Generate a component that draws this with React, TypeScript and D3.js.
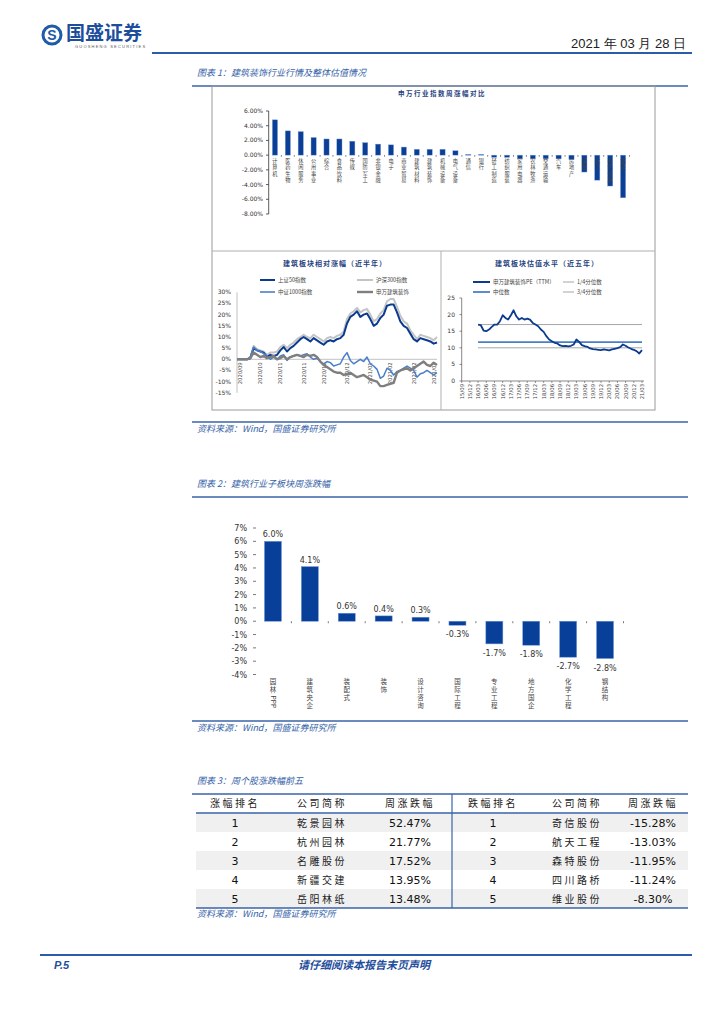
import React from 'react';
import * as d3 from 'd3';

const CN = "'Noto Sans CJK SC', 'Noto Sans', sans-serif";
const NUM = "'DejaVu Sans', sans-serif";
const ARIAL = "'Liberation Sans', Arial, sans-serif";
const BLUE = '#0b3f96';
const CAP = '#3562a8';

// ---------- Figure 1a: 申万行业指数周涨幅对比 ----------
const swIndustries = ['计算机', '医药生物', '休闲服务', '公用事业', '综合', '食品饮料', '传媒', '国防军工', '非银金融', '电子', '商业贸易', '建筑材料', '建筑装饰', '机械设备', '电气设备', '通信', '银行', '轻工制造', '纺织服装', '家用电器', '农林牧渔', '交通运输', '汽车', '房地产', '采掘', '化工', '有色金属', '钢铁'];
const swWeekly = [4.8, 3.3, 3.2, 2.4, 2.2, 2.2, 1.9, 1.7, 1.5, 1.4, 1.1, 0.8, 0.8, 0.8, 0.6, 0.1, 0.1, -0.3, -0.3, -0.5, -0.5, -0.5, -0.5, -0.6, -2.3, -3.4, -4.2, -5.8];
const swTicks = [6, 4, 2, 0, -2, -4, -6, -8];

// ---------- Figure 1b: 建筑板块相对涨幅（近半年） ----------
const relTickIdx = [1, 7, 13, 20, 26, 33, 40, 46, 53, 59];
const relTickLabels = ['2020/09', '2020/10', '2020/11', '2020/11', '2020/12', '2020/12', '2021/01', '2021/02', '2021/02', '2021/03'];
const relYTicks = [30, 25, 20, 15, 10, 5, 0, -5, -10, -15];
const sz50 = [0, 0, 0, 0, 0.5, 5, 4, 3.5, 3, 1, 2, 1.5, 2, 4, 5.5, 3.5, 5, 6, 7.5, 9, 10, 9, 8, 9.5, 8.5, 7.5, 6.5, 8, 8.5, 8, 9, 9.5, 11, 16, 19, 20, 21.5, 19, 20, 20.5, 18, 15, 16, 18.5, 20, 24, 24.5, 24.5, 21, 17, 15, 14, 11.5, 9, 8, 9.5, 9, 8.5, 8, 7, 7.5];
const hs300 = [0, 0, 0, 0, 1, 6, 4.5, 4, 3.5, 2, 3, 3, 3.5, 5.5, 6.5, 5, 6.5, 7.5, 9, 10, 11, 10, 9.5, 11, 10, 9, 8, 9.5, 10, 9.5, 10.5, 11, 12.5, 18, 20.5, 21.5, 23, 21, 22, 22.5, 20, 17, 18, 20.5, 22, 26, 27, 27, 23.5, 19.5, 17, 16, 13, 11, 9, 11, 10.5, 10, 9.5, 8.5, 10];
const zz1000 = [0, 0, 0, 0, 1, 5.5, 4, 3.5, 2.5, 1.5, 0, 1, 0, 1.5, 2, -0.5, 1, 1.5, 2, 1.5, 2, 2.5, 1, 0, 0.5, -1, -2, -1, -1.5, -3, -2.5, -2, 1, 3, -0.5, -2, -1, 0, -1, 1, -2, -3, -4.5, -8.5, -7.5, -4, -5, -7, -5.5, -5, -4, -3, -4, -5, -8, -6.5, -6, -5, -6, -7, -6];
const swjz = [0, 0, 0, 0, 0.5, 3, 2, 1, 1.5, 0.5, 1, 1.5, 0, 0.5, 1.5, 0, 1, 1.5, 2, 1.5, 1, 2, 1.5, 2, 1, -1, -2.5, -3.5, -4.5, -5.5, -6, -6, -7, -6.5, -6, -7, -8, -7.5, -7, -8, -9, -9.5, -10, -12, -12, -11.5, -11, -10.5, -6, -5, -4.5, -4, -5, -4, -3, -2, -1, -2.5, -3, -1.5, -2.5];

// ---------- Figure 1c: 建筑板块估值水平（近五年） ----------
const peTickLabels = ['15/09', '15/12', '16/03', '16/06', '16/09', '16/12', '17/03', '17/06', '17/09', '17/12', '18/03', '18/06', '18/09', '18/12', '19/03', '19/06', '19/09', '19/12', '20/03', '20/06', '20/09', '20/12', '21/03'];
const peYTicks = [25, 20, 15, 10, 5, 0];
const peStartMonth = 6;
const peValues = [17, 16.8, 15.2, 15, 15.5, 16.3, 17, 17, 18, 19.8, 19, 18.5, 19.8, 21.3, 19.5, 18.5, 19, 18.5, 18.8, 18.5, 17.5, 17, 16.5, 15.5, 14.8, 13.5, 12.5, 12, 11.5, 11.3, 10.7, 10.5, 10.6, 10.4, 10.6, 11, 12.5, 11.8, 10.8, 10.5, 10.3, 9.8, 9.6, 9.5, 9.4, 9.3, 9.5, 9.4, 9.2, 9.5, 9.7, 9.9, 10.2, 11, 10.6, 10.1, 9.7, 9.4, 9, 8.3, 9.3];
const peQ1 = 10.0;
const peMedian = 11.7;
const peQ3 = 17.0;

// ---------- Figure 2: 建筑行业子板块周涨跌幅 ----------
const subSectors = ['园林PPP', '建筑央企', '装配式', '装饰', '设计咨询', '国际工程', '专业工程', '地方国企', '化学工程', '钢结构'];
const subWeekly = [6.0, 4.1, 0.6, 0.4, 0.3, -0.3, -1.7, -1.8, -2.7, -2.8];
const subTicks = [7, 6, 5, 4, 3, 2, 1, 0, -1, -2, -3, -4];

// ---------- Figure 3: 周个股涨跌幅前五 ----------
const tableHeaderUp = ['涨幅排名', '公司简称', '周涨跌幅'];
const tableHeaderDown = ['跌幅排名', '公司简称', '周涨跌幅'];
const ranks = ['1', '2', '3', '4', '5'];
const gainNames = ['乾景园林', '杭州园林', '名雕股份', '新疆交建', '岳阳林纸'];
const gainPct = ['52.47%', '21.77%', '17.52%', '13.95%', '13.48%'];
const loseNames = ['奇信股份', '航天工程', '森特股份', '四川路桥', '维业股份'];
const losePct = ['-15.28%', '-13.03%', '-11.95%', '-11.24%', '-8.30%'];

// Vertical label: CJK characters stacked, Latin runs rotated 90°
function VText({ x, top, text, size, fill = '#333', step }: { x: number; top: number; text: string; size: number; fill?: string; step?: number }) {
  const st = step ?? size * 1.25;
  const cjk = text.replace(/[A-Za-z0-9]+$/, '');
  const latin = text.slice(cjk.length);
  const chars = Array.from(cjk);
  const latinTop = top + chars.length * st + 1;
  return (
    <g>
      <text x={x} y={top + size * 0.88} fontSize={size} textAnchor="middle" fill={fill} fontFamily={CN}>
        {chars.map((c, i) => (
          <tspan key={i} x={x} dy={i === 0 ? 0 : st}>{c}</tspan>
        ))}
      </text>
      {latin ? (
        <text transform={`translate(${x - size * 0.35},${latinTop}) rotate(90)`} fontSize={size} fill={fill} fontFamily={ARIAL}>{latin}</text>
      ) : null}
    </g>
  );
}

function Caption({ y, text }: { y: number; text: string }) {
  return (
    <g>
      <text x={197} y={y} fontSize={9} fontStyle="italic" fill={CAP} fontFamily={CN}>{text}</text>
      <line x1={192} x2={688} y1={y + 10} y2={y + 10} stroke="#3a63a8" strokeWidth={1.6} />
    </g>
  );
}

function Source({ y }: { y: number }) {
  return (
    <g>
      <line x1={192} x2={688} y1={y - 7} y2={y - 7} stroke="#3a63a8" strokeWidth={1.6} />
      <text x={197} y={y + 3} fontSize={9} fontStyle="italic" fill={CAP} fontFamily={CN}>资料来源：Wind，国盛证券研究所</text>
    </g>
  );
}

export default function App() {
  // Fig 1a scales
  const f1x = d3.scaleBand<string>().domain(swIndustries).range([268.5, 629.5]);
  const f1y = d3.scaleLinear().domain([-8, 6]).range([214, 111]);

  // Fig 1b
  const f2x = d3.scaleLinear().domain([0, sz50.length - 1]).range([237, 437]);
  const f2y = d3.scaleLinear().domain([-15, 30]).range([392.8, 292.3]);
  const relLine = d3.line<number>().x((_, i) => f2x(i)).y((d) => f2y(d));

  // Fig 1c
  const f3x = d3.scaleLinear().domain([0, 66]).range([461.7, 642]);
  const f3y = d3.scaleLinear().domain([0, 25]).range([381, 298]);
  const peLine = d3.line<number>().x((_, i) => f3x(peStartMonth + i)).y((d) => f3y(d));
  const peEnd = peStartMonth + peValues.length - 1;

  // Fig 2
  const gx = d3.scaleBand<string>().domain(subSectors).range([254.5, 623.5]);
  const gy = d3.scaleLinear().domain([-4, 7]).range([674.5, 528]);
  const barW = 17;

  // Table
  const rowTop = 813;
  const rowH = 19;
  const leftCols = [235, 322, 410];
  const rightCols = [493, 577, 653];

  return (
    <svg width={724} height={1024} style={{ position: 'absolute', left: 0, top: 0, background: '#fff' }}>
      <rect x={0} y={0} width={724} height={1024} fill="#fff" />

      {/* Header */}
      <circle cx={52} cy={35} r={9} fill="none" stroke="#1f5ba8" strokeWidth={3} />
      <text x={52} y={40} fontSize={14} fontWeight="bold" textAnchor="middle" fill="#1f5ba8" fontFamily={ARIAL}>S</text>
      <text x={66} y={40} fontSize={19} fontWeight="bold" fill="#1c4e9c" fontFamily={CN}>国盛证券</text>
      <text x={75} y={48} fontSize={4} fill="#555" letterSpacing={1.2} fontFamily={ARIAL}>GUOSHENG SECURITIES</text>
      <text x={686} y={48} fontSize={13} textAnchor="end" fill="#222" fontFamily={ARIAL}>2021 年 03 月 28 日</text>
      <line x1={152} x2={692} y1={53} y2={53} stroke="#2a5ca8" strokeWidth={2.2} />

      {/* Figure 1 */}
      <Caption y={76} text="图表 1：建筑装饰行业行情及整体估值情况" />
      <rect x={212} y={86} width={443} height={324} fill="none" stroke="#9a9a9a" strokeWidth={1} />
      <line x1={212} x2={655} y1={251} y2={251} stroke="#b0b0b0" strokeWidth={1} />
      <line x1={441} x2={441} y1={251} y2={410} stroke="#b0b0b0" strokeWidth={1} />

      {/* Fig 1a */}
      <text x={442} y={96} fontSize={6.5} fontWeight="bold" textAnchor="middle" fill="#1f3f80" letterSpacing={1.5} fontFamily={CN}>申万行业指数周涨幅对比</text>
      <line x1={268.7} x2={268.7} y1={f1y(6)} y2={f1y(-8)} stroke="#333" strokeWidth={0.8} />
      {swTicks.map((t) => (
        <g key={t}>
          <line x1={266} x2={268.7} y1={f1y(t)} y2={f1y(t)} stroke="#333" strokeWidth={0.8} />
          <text x={263} y={f1y(t) + 2} fontSize={6} textAnchor="end" fill="#333" fontFamily={NUM}>{t.toFixed(2)}%</text>
        </g>
      ))}
      {swIndustries.map((name, i) => {
        const v = swWeekly[i];
        const cx = (f1x(name) as number) + f1x.bandwidth() / 2;
        const y0 = f1y(0);
        const y1 = f1y(v);
        return (
          <g key={name}>
            <rect x={cx - 2.6} y={Math.min(y0, y1)} width={5.2} height={Math.max(0.8, Math.abs(y1 - y0))} fill={BLUE} stroke="#7fa6de" strokeWidth={0.4} />
            <line x1={(f1x(name) as number) + f1x.bandwidth()} x2={(f1x(name) as number) + f1x.bandwidth()} y1={y0} y2={y0 + 1.5} stroke="#333" strokeWidth={0.7} />
            <VText x={cx} top={158} text={name} size={5.2} step={6.6} fill="#444" />
          </g>
        );
      })}

      {/* Fig 1b */}
      <text x={335} y={266} fontSize={7} fontWeight="bold" textAnchor="middle" fill="#1f3f80" letterSpacing={1} fontFamily={CN}>建筑板块相对涨幅（近半年）</text>
      <line x1={260} x2={275} y1={280} y2={280} stroke="#0b3b8f" strokeWidth={2} />
      <text x={278} y={282} fontSize={5.5} fill="#444" fontFamily={CN}>上证50指数</text>
      <line x1={357} x2={373} y1={280} y2={280} stroke="#c4c4c4" strokeWidth={2} />
      <text x={376} y={282} fontSize={5.5} fill="#444" fontFamily={CN}>沪深300指数</text>
      <line x1={260} x2={275} y1={292} y2={292} stroke="#4a7fc8" strokeWidth={1.6} />
      <text x={278} y={294} fontSize={5.5} fill="#444" fontFamily={CN}>中证1000指数</text>
      <line x1={357} x2={373} y1={292} y2={292} stroke="#7f7f7f" strokeWidth={2.4} />
      <text x={376} y={294} fontSize={5.5} fill="#444" fontFamily={CN}>申万建筑装饰</text>
      {relYTicks.map((t) => (
        <text key={t} x={231} y={f2y(t) + 2} fontSize={6} textAnchor="end" fill="#333" fontFamily={NUM}>{t}%</text>
      ))}
      <line x1={237} x2={237} y1={f2y(30)} y2={f2y(-15)} stroke="#999" strokeWidth={0.6} />
      <line x1={237} x2={437} y1={f2y(0)} y2={f2y(0)} stroke="#999" strokeWidth={0.6} />
      {relTickIdx.map((idx, i) => (
        <text key={i} transform={`translate(${f2x(idx) + 2},${f2y(0) + 3}) rotate(-90)`} fontSize={5.3} textAnchor="end" fill="#444" fontFamily={NUM}>{relTickLabels[i]}</text>
      ))}
      <path d={relLine(hs300) || ''} fill="none" stroke="#c4c4c4" strokeWidth={2} strokeLinejoin="round" />
      <path d={relLine(sz50) || ''} fill="none" stroke="#0b3b8f" strokeWidth={2} strokeLinejoin="round" />
      <path d={relLine(zz1000) || ''} fill="none" stroke="#4a7fc8" strokeWidth={1.5} strokeLinejoin="round" />
      <path d={relLine(swjz) || ''} fill="none" stroke="#7f7f7f" strokeWidth={2.4} strokeLinejoin="round" />

      {/* Fig 1c */}
      <text x={547} y={266} fontSize={7} fontWeight="bold" textAnchor="middle" fill="#1f3f80" letterSpacing={1} fontFamily={CN}>建筑板块估值水平（近五年）</text>
      <line x1={473} x2={490} y1={282} y2={282} stroke="#0b3b8f" strokeWidth={2} />
      <text x={493} y={284} fontSize={5.5} fill="#444" fontFamily={CN}>申万建筑装饰PE（TTM）</text>
      <line x1={563} x2={574} y1={282} y2={282} stroke="#a6a6a6" strokeWidth={1} />
      <text x={577} y={284} fontSize={5.5} fill="#444" fontFamily={CN}>1/4分位数</text>
      <line x1={473} x2={490} y1={292} y2={292} stroke="#4a7fc8" strokeWidth={1.8} />
      <text x={493} y={294} fontSize={5.5} fill="#444" fontFamily={CN}>中位数</text>
      <line x1={563} x2={574} y1={292} y2={292} stroke="#a6a6a6" strokeWidth={1} />
      <text x={577} y={294} fontSize={5.5} fill="#444" fontFamily={CN}>3/4分位数</text>
      <line x1={461.7} x2={461.7} y1={f3y(25)} y2={f3y(0)} stroke="#555" strokeWidth={0.7} />
      <line x1={461.7} x2={644} y1={f3y(0)} y2={f3y(0)} stroke="#555" strokeWidth={0.7} />
      {peYTicks.map((t) => (
        <g key={t}>
          <line x1={459.5} x2={461.7} y1={f3y(t)} y2={f3y(t)} stroke="#555" strokeWidth={0.7} />
          <text x={455} y={f3y(t) + 2} fontSize={6} textAnchor="end" fill="#333" fontFamily={NUM}>{t}</text>
        </g>
      ))}
      {peTickLabels.map((lab, i) => (
        <g key={lab}>
          <line x1={f3x(i * 3)} x2={f3x(i * 3)} y1={f3y(0)} y2={f3y(0) + 2} stroke="#555" strokeWidth={0.6} />
          <text transform={`translate(${f3x(i * 3) + 2},${f3y(0) + 3}) rotate(-90)`} fontSize={5.3} textAnchor="end" fill="#444" fontFamily={NUM}>{lab}</text>
        </g>
      ))}
      <line x1={f3x(peStartMonth)} x2={f3x(peEnd)} y1={f3y(peQ3)} y2={f3y(peQ3)} stroke="#a6a6a6" strokeWidth={1} />
      <line x1={f3x(peStartMonth)} x2={f3x(peEnd)} y1={f3y(peQ1)} y2={f3y(peQ1)} stroke="#a6a6a6" strokeWidth={1} />
      <line x1={f3x(peStartMonth)} x2={f3x(peEnd)} y1={f3y(peMedian)} y2={f3y(peMedian)} stroke="#4a7fc8" strokeWidth={1.8} />
      <path d={peLine(peValues) || ''} fill="none" stroke="#0b3b8f" strokeWidth={1.8} strokeLinejoin="round" />

      <Source y={429} />

      {/* Figure 2 */}
      <Caption y={487} text="图表 2：建筑行业子板块周涨跌幅" />
      {subTicks.map((t) => (
        <g key={t}>
          <text x={247} y={gy(t) + 3} fontSize={8} textAnchor="end" fill="#333" fontFamily={NUM}>{t}%</text>
          <line x1={253} x2={256} y1={gy(t)} y2={gy(t)} stroke="#555" strokeWidth={0.8} />
        </g>
      ))}
      {subSectors.map((name, i) => {
        const v = subWeekly[i];
        const bx = gx(name) as number;
        const cx = bx + gx.bandwidth() / 2;
        const y0 = gy(0);
        const y1 = gy(v);
        return (
          <g key={name}>
            <rect x={cx - barW / 2} y={Math.min(y0, y1)} width={barW} height={Math.abs(y1 - y0)} fill="#073f99" stroke="#6e95d6" strokeWidth={0.5} />
            <line x1={bx + gx.bandwidth()} x2={bx + gx.bandwidth()} y1={y0} y2={y0 + 2} stroke="#555" strokeWidth={0.8} />
            <text x={cx} y={v >= 0 ? y1 - 4 : y1 + 12} fontSize={8} textAnchor="middle" fill="#333" fontFamily={NUM}>{v.toFixed(1)}%</text>
            <VText x={cx} top={678} text={name} size={6.5} step={8.2} fill="#444" />
          </g>
        );
      })}

      <Source y={728} />

      {/* Figure 3 */}
      <Caption y={784} text="图表 3：周个股涨跌幅前五" />
      {ranks.map((_, i) => (i % 2 === 0 ? <rect key={i} x={196} y={rowTop + i * rowH} width={492} height={rowH} fill="#f0f0f0" /> : null))}
      <line x1={196} x2={688} y1={rowTop} y2={rowTop} stroke="#3a63a8" strokeWidth={1.5} />
      <line x1={196} x2={688} y1={rowTop + 5 * rowH} y2={rowTop + 5 * rowH} stroke="#3a63a8" strokeWidth={1.5} />
      <line x1={452} x2={452} y1={794} y2={rowTop + 5 * rowH} stroke="#3a63a8" strokeWidth={1.2} />
      {tableHeaderUp.map((h, j) => (
        <text key={'hu' + j} x={leftCols[j]} y={807} fontSize={10} textAnchor="middle" fill="#222" letterSpacing={2.5} fontFamily={CN}>{h}</text>
      ))}
      {tableHeaderDown.map((h, j) => (
        <text key={'hd' + j} x={rightCols[j]} y={807} fontSize={10} textAnchor="middle" fill="#222" letterSpacing={2.5} fontFamily={CN}>{h}</text>
      ))}
      {ranks.map((r, i) => {
        const y = rowTop + i * rowH + 14;
        return (
          <g key={'row' + i}>
            <text x={leftCols[0]} y={y} fontSize={11} textAnchor="middle" fill="#111" fontFamily={NUM}>{r}</text>
            <text x={leftCols[1]} y={y} fontSize={10} textAnchor="middle" fill="#222" letterSpacing={2.5} fontFamily={CN}>{gainNames[i]}</text>
            <text x={leftCols[2]} y={y} fontSize={11} textAnchor="middle" fill="#111" fontFamily={NUM}>{gainPct[i]}</text>
            <text x={rightCols[0]} y={y} fontSize={11} textAnchor="middle" fill="#111" fontFamily={NUM}>{r}</text>
            <text x={rightCols[1]} y={y} fontSize={10} textAnchor="middle" fill="#222" letterSpacing={2.5} fontFamily={CN}>{loseNames[i]}</text>
            <text x={rightCols[2]} y={y} fontSize={11} textAnchor="middle" fill="#111" fontFamily={NUM}>{losePct[i]}</text>
          </g>
        );
      })}
      <text x={197} y={917} fontSize={9} fontStyle="italic" fill={CAP} fontFamily={CN}>资料来源：Wind，国盛证券研究所</text>

      {/* Footer */}
      <line x1={40} x2={692} y1={955} y2={955} stroke="#2a5ca8" strokeWidth={2.2} />
      <text x={54} y={969} fontSize={11} fontWeight="bold" fontStyle="italic" fill="#1f4e9c" fontFamily={ARIAL}>P.5</text>
      <text x={364} y={969} fontSize={11} fontWeight="bold" fontStyle="italic" textAnchor="middle" fill="#1f4e9c" fontFamily={CN}>请仔细阅读本报告末页声明</text>
    </svg>
  );
}
